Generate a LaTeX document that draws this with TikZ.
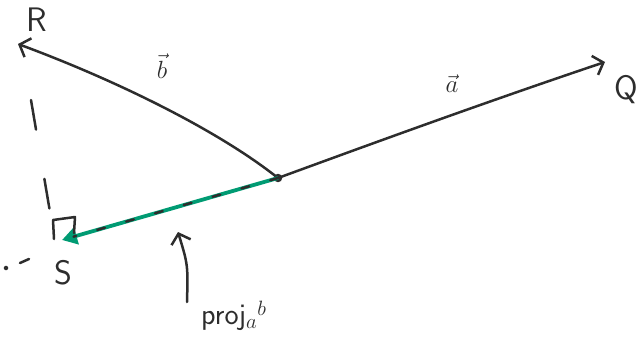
\documentclass[tikz,border=0pt]{standalone}
\usepackage{fontspec}
\usepackage{tikz}
\usetikzlibrary{arrows.meta, positioning, calc}

\definecolor{ink}{RGB}{45,45,45}
\definecolor{markergreen}{RGB}{0,155,115}

\begin{document}
\begin{tikzpicture}[x=1pt, y=-1pt,
        pen/.style={draw=ink, line width=2.5pt, line cap=round, line join=round},
        vecline/.style={pen, -{Straight Barb[length=9pt, width=20pt, line width=2.5pt]}},
        projline/.style={draw=markergreen, line width=3.8pt, -{Triangle[length=15pt, width=17pt]}},
        dot/.style={circle, fill=ink, inner sep=3pt},
        lbl/.style={font=\sffamily\fontsize{34}{36}\selectfont, text=ink, inner sep=1pt},
        mlbl/.style={font=\fontsize{32}{34}\selectfont, text=ink, inner sep=1pt}
    ]
    \useasboundingbox (0,0) rectangle (641,343);

    % Points
    \node[dot] (O) at (278,178) {};
    \coordinate (Q) at (605,62);
    \coordinate (R) at (18,44);
    \coordinate (S) at (62,240);

    % Labels
    \node[lbl] (Rlabel) at (37,20) {R};
    \node[lbl] (Qlabel) at (626,90) {Q};
    \node[lbl] (Slabel) at (63,273) {S};
    \node[mlbl] (blabel) at (162,66) {$\vec{b}$};
    \node[mlbl] (alabel) at (452,84) {$\vec{a}$};
    \node[lbl, font=\sffamily\fontsize{30}{32}\selectfont, anchor=west] (projlabel) at (200,316) {proj$_a{}^b$};

    % Vectors
    \draw[vecline] (O.center) .. controls (360,148) and (480,104) .. (Q);
    \draw[vecline] (O.center) .. controls (215,128) and (110,78) .. (R);

    % Projection
    \draw[projline] (O.center) -- (S);
    \draw[pen, dash pattern=on 8pt off 22pt] (O.center) -- ($(S)!12pt!(O)$);
    \coordinate (ext1) at (29,259);
    \coordinate (ext2) at (20,263);
    \draw[pen] (ext1) -- (ext2);
    \node[dot, inner sep=1.6pt] (extdot) at (6,268) {};

    % Drop line and right angle
    \coordinate (drop) at (31,100);
    \coordinate (foot) at (50,212);
    \draw[pen, dash pattern=on 30pt off 50pt] (drop) -- (foot);
    \coordinate (ra1) at (54,239);
    \coordinate (ra2) at (53,220);
    \coordinate (ra3) at (75,217);
    \coordinate (ra4) at (74,233);
    \draw[pen] (ra1) -- (ra2) -- (ra3) -- (ra4);

    % Pointer to the projection
    \coordinate (tail) at (187,302);
    \draw[pen, -{Straight Barb[length=9pt, width=20pt, line width=2.5pt]}] (tail) .. controls (188,265) .. (178,232);

\end{tikzpicture}
\end{document}
